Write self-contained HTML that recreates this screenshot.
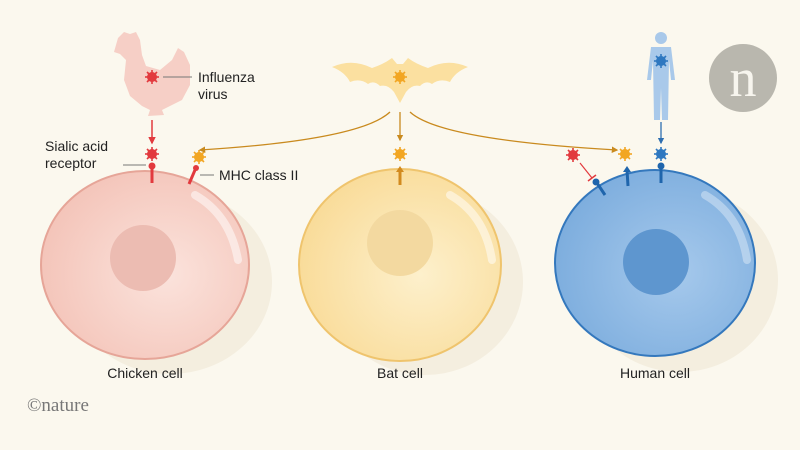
<!DOCTYPE html>
<html><head><meta charset="utf-8"><style>
body{margin:0;background:#fbf8ee;}
svg{display:block}
text{font-family:"Liberation Sans",sans-serif;fill:#222;font-size:14px}
</style></head><body>
<svg width="800" height="450" viewBox="0 0 800 450">
<defs>
<g id="v"><circle r="4.5"/><g stroke-width="1.6">
<line x1="0" y1="-7" x2="0" y2="7"/><line x1="-7" y1="0" x2="7" y2="0"/><line x1="-5" y1="-5" x2="5" y2="5"/><line x1="-5" y1="5" x2="5" y2="-5"/></g></g>
<marker id="ar" viewBox="0 0 10 10" refX="8" refY="5" markerWidth="5" markerHeight="5" orient="auto"><path d="M0,0L10,5L0,10z" fill="context-stroke"/></marker>
<radialGradient id="gc" cx="0.6" cy="0.55" r="0.6"><stop offset="0" stop-color="#fbe3dc"/><stop offset="1" stop-color="#f4c5ba"/></radialGradient>
<radialGradient id="gb" cx="0.6" cy="0.55" r="0.6"><stop offset="0" stop-color="#fdf0cc"/><stop offset="1" stop-color="#f9dc9a"/></radialGradient>
<radialGradient id="gh" cx="0.6" cy="0.55" r="0.6"><stop offset="0" stop-color="#a6c9ec"/><stop offset="1" stop-color="#7eaede"/></radialGradient>
</defs>
<rect width="800" height="450" fill="#fbf8ee"/>
<!-- shadows -->
<ellipse cx="170" cy="282" rx="102" ry="92" fill="#f4eedf"/>
<ellipse cx="425" cy="282" rx="98" ry="93" fill="#f4eedf"/>
<ellipse cx="680" cy="280" rx="98" ry="92" fill="#f4eedf"/>
<!-- cells -->
<ellipse cx="145" cy="265" rx="104" ry="94" fill="url(#gc)" stroke="#e6a598" stroke-width="2"/>
<circle cx="143" cy="258" r="33" fill="#ecbcb2"/>
<path d="M195,195 Q230,215 238,260" fill="none" stroke="#fff" stroke-opacity="0.5" stroke-width="8" stroke-linecap="round"/>
<ellipse cx="400" cy="265" rx="101" ry="96" fill="url(#gb)" stroke="#efc46d" stroke-width="2"/>
<circle cx="400" cy="243" r="33" fill="#f3d9a0"/>
<path d="M450,195 Q485,215 492,260" fill="none" stroke="#fff" stroke-opacity="0.5" stroke-width="8" stroke-linecap="round"/>
<ellipse cx="655" cy="263" rx="100" ry="93" fill="url(#gh)" stroke="#3478bd" stroke-width="2"/>
<circle cx="656" cy="262" r="33" fill="#5e96cf"/>
<path d="M705,195 Q740,215 747,260" fill="none" stroke="#fff" stroke-opacity="0.35" stroke-width="8" stroke-linecap="round"/>
<!-- chicken -->
<path d="M118,38 L124,32 L130,34 L136,32 L140,40 L142,55 L146,66 L160,70 L172,60 L178,48 L184,52 L190,65 L190,85 L182,100 L170,106 L162,110 L164,115 L148,116 L150,110 L142,106 L130,96 L124,80 L126,60 L120,54 L114,52 Z" fill="#f6cfc6"/>
<g fill="#e23a3e" stroke="#e23a3e"><use href="#v" x="152" y="77"/></g>
<line x1="163" y1="77" x2="192" y2="77" stroke="#777"/>
<text x="198" y="82">Influenza</text><text x="198" y="99">virus</text>
<line x1="152" y1="120" x2="152" y2="143" stroke="#e23a3e" stroke-width="1.5" marker-end="url(#ar)"/>
<g fill="#e23a3e" stroke="#e23a3e"><use href="#v" x="152" y="154"/></g>
<line x1="152" y1="166" x2="152" y2="183" stroke="#e23a3e" stroke-width="3"/><circle cx="152" cy="166" r="3.5" fill="#e23a3e"/>
<text x="45" y="151">Sialic acid</text><text x="45" y="168">receptor</text>
<line x1="123" y1="165" x2="146" y2="165" stroke="#777"/>
<g fill="#f2a623" stroke="#f2a623"><use href="#v" x="199" y="157"/></g>
<line x1="189" y1="184" x2="195" y2="170" stroke="#e23a3e" stroke-width="3"/><circle cx="196" cy="168" r="3" fill="#e23a3e"/>
<line x1="200" y1="175" x2="214" y2="175" stroke="#777"/>
<text x="219" y="180">MHC class II</text>
<!-- bat -->
<path d="M332,67 Q352,58 372,68 Q384,64 392,58 L397,64 L403,64 L408,58 Q416,64 428,68 Q448,58 468,67 Q455,72 450,82 Q440,78 432,84 Q426,80 420,86 Q412,84 406,92 L400,103 L394,92 Q388,84 380,86 Q374,80 368,84 Q360,78 350,82 Q345,72 332,67Z" fill="#fbe0a0"/>
<g fill="#f2a623" stroke="#f2a623"><use href="#v" x="400" y="77"/></g>
<path d="M390,112 Q360,140 200,150" fill="none" stroke="#c98a1e" stroke-width="1.3" marker-end="url(#ar)"/>
<line x1="400" y1="112" x2="400" y2="140" stroke="#c98a1e" stroke-width="1.3" marker-end="url(#ar)"/>
<path d="M410,112 Q440,140 617,150" fill="none" stroke="#c98a1e" stroke-width="1.3" marker-end="url(#ar)"/>
<g fill="#f2a623" stroke="#f2a623"><use href="#v" x="400" y="154"/></g>
<line x1="400" y1="170" x2="400" y2="185" stroke="#d28a1e" stroke-width="3"/><path d="M396,172 L400,166 L404,172Z" fill="#d28a1e"/>
<!-- human -->
<g fill="#a9c9ea"><circle cx="661" cy="38" r="6"/><path d="M651,47 H671 L675,80 H671 L669,60 L668,120 H662 L661,88 L660,120 H654 L653,60 L651,80 H647Z"/></g>
<g fill="#2f78c0" stroke="#2f78c0"><use href="#v" x="661" y="61"/></g>
<line x1="661" y1="122" x2="661" y2="143" stroke="#2f6fb0" stroke-width="1.3" marker-end="url(#ar)"/>
<g fill="#2f78c0" stroke="#2f78c0"><use href="#v" x="661" y="154"/></g>
<line x1="661" y1="166" x2="661" y2="183" stroke="#1f65ac" stroke-width="3"/><circle cx="661" cy="166" r="3.5" fill="#1f65ac"/>
<g fill="#f2a623" stroke="#f2a623"><use href="#v" x="625" y="154"/></g>
<line x1="627" y1="170" x2="628" y2="186" stroke="#1f65ac" stroke-width="3"/><path d="M623,172 L627,166 L631,172Z" fill="#1f65ac"/>
<g fill="#e23a3e" stroke="#e23a3e"><use href="#v" x="573" y="155"/></g>
<line x1="580" y1="163" x2="592" y2="178" stroke="#e23a3e" stroke-width="1.2"/><line x1="588" y1="181" x2="596" y2="175" stroke="#e23a3e" stroke-width="1.5"/>
<line x1="597" y1="183" x2="605" y2="195" stroke="#1f65ac" stroke-width="3"/><circle cx="596" cy="182" r="3.5" fill="#1f65ac"/>
<!-- logo -->
<circle cx="743" cy="78" r="34" fill="#b9b7ae"/>
<text x="743" y="96" text-anchor="middle" style="font-family:'Liberation Serif',serif;font-size:54px;fill:#f7f5ee">n</text>
<!-- labels -->
<text x="145" y="378" text-anchor="middle">Chicken cell</text>
<text x="400" y="378" text-anchor="middle">Bat cell</text>
<text x="655" y="378" text-anchor="middle">Human cell</text>
<text x="27" y="411" style="font-family:'Liberation Serif',serif;font-size:19px;fill:#777">©nature</text>
</svg>
</body></html>
